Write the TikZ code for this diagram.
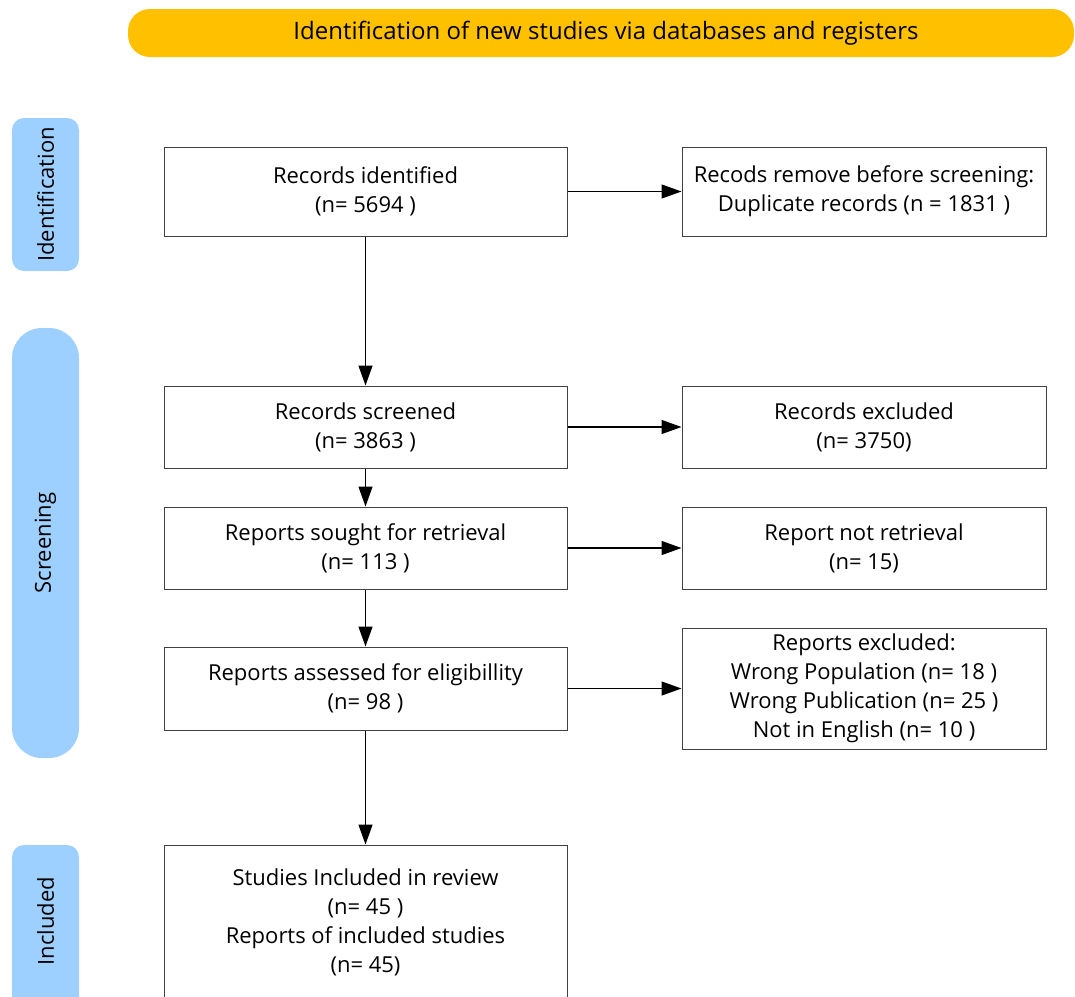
\documentclass[tikz,border=0pt]{standalone}
\usepackage{fontspec}
\setmainfont{Open Sans}
\usetikzlibrary{arrows.meta}
\definecolor{bannerfill}{HTML}{FFC000}
\definecolor{sidefill}{HTML}{9DCFFF}
\definecolor{boxline}{HTML}{404040}
\tikzset{
  fbox/.style={draw=boxline, line width=1pt, fill=white, align=center, font=\fontsize{22}{29}\selectfont, inner sep=0pt},
  sidetext/.style={rotate=90, font=\fontsize{22}{24}\selectfont},
  arr/.style={line width=1.3pt, -{Triangle[length=20pt,width=14pt]}},
}
\begin{document}
\begin{tikzpicture}[x=1pt,y=-1pt]
\useasboundingbox (0,0) rectangle (1075,996);
\begin{scope}
\clip (0,0) rectangle (1075,996);
% banner
\fill[bannerfill, rounded corners=22pt] (128,9) rectangle (1074,57);
\node[font=\fontsize{24}{26}\selectfont] (banner) at (606,33) {Identification of new studies via databases and registers};
% side labels
\fill[sidefill, rounded corners=12pt] (12,118) rectangle (79,271);
\node[sidetext] (sid) at (45.5,194.5) {Identification};
\fill[sidefill, rounded corners=30pt] (12,328) rectangle (79,758);
\node[sidetext] (sscr) at (45.5,543) {Screening};
\fill[sidefill, rounded corners=12pt] (12,845) rectangle (79,1020);
\node[sidetext] (sinc) at (45.5,921) {Included};
% boxes
\node[fbox, minimum width=403pt, minimum height=89pt] (b1) at (365.5,191.5) {Records identified\\(n= 5694 )};
\node[fbox, minimum width=364pt, minimum height=89pt] (r1) at (864,191.5) {Recods remove before screening:\\Duplicate records (n = 1831 )};
\node[fbox, minimum width=403pt, minimum height=82pt] (b2) at (365.5,427) {Records screened\\(n= 3863 )};
\node[fbox, minimum width=364pt, minimum height=82pt] (r2) at (864,427) {Records excluded\\(n= 3750)};
\node[fbox, minimum width=403pt, minimum height=82pt] (b3) at (365.5,548) {Reports sought for retrieval\\(n= 113 )};
\node[fbox, minimum width=364pt, minimum height=82pt] (r3) at (864,548) {Report not retrieval\\(n= 15)};
\node[fbox, minimum width=403pt, minimum height=83pt] (b4) at (365.5,688.5) {Reports assessed for eligibillity\\(n= 98 )};
\node[fbox, minimum width=364pt, minimum height=121pt] (r4) at (864,688.5) {Reports excluded:\\Wrong Population (n= 18 )\\Wrong Publication (n= 25 )\\Not in English (n= 10 )};
\node[fbox, minimum width=403pt, minimum height=154pt] (b5) at (365.5,922) {Studies Included in review\\(n= 45 )\\Reports of included studies\\(n= 45)};
% arrows
\draw[arr] (b1.south) -- (b2.north);
\draw[arr] (b2.south) -- (b3.north);
\draw[arr] (b3.south) -- (b4.north);
\draw[arr] (b4.south) -- (b5.north);
\draw[arr] (b1.east) -- (r1.west);
\draw[arr] (b2.east) -- (r2.west);
\draw[arr] (b3.east) -- (r3.west);
\draw[arr] (b4.east) -- (r4.west);
\end{scope}
\end{tikzpicture}
\end{document}
